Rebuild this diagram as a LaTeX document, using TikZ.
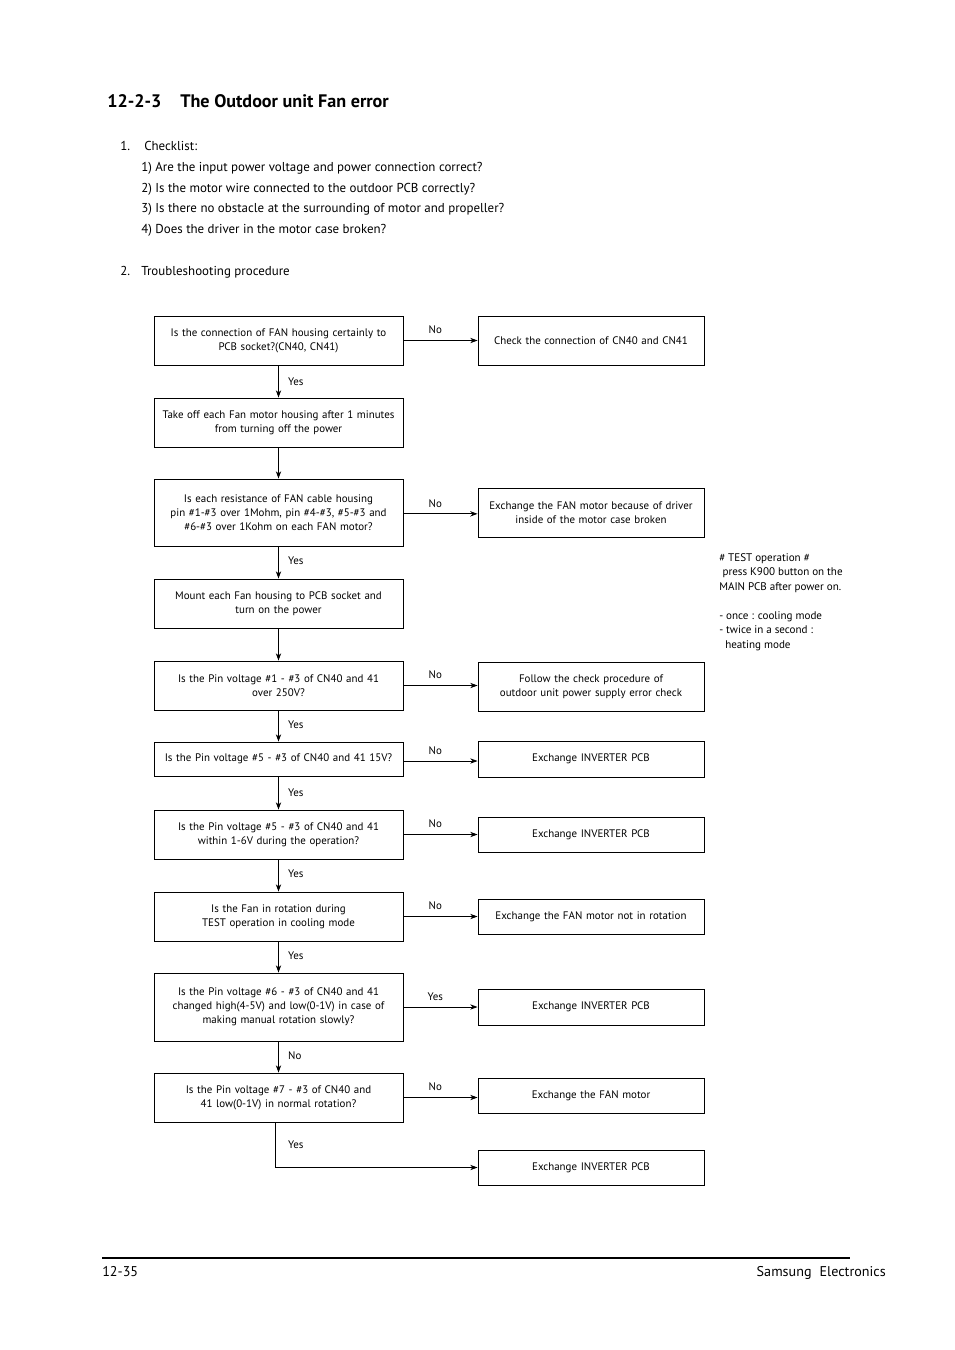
\documentclass[tikz,border=0pt]{standalone}
\usepackage{fontspec}
\setmainfont{PT Sans}
\usetikzlibrary{arrows.meta}
\begin{document}
\begin{tikzpicture}[x=0.75pt,y=-0.75pt,
  every node/.style={inner sep=0pt},
  boxtext/.style={font=\fontsize{8.2}{10.6}\selectfont},
  lbox/.style={draw, line width=0.7pt, boxtext, align=center, minimum width={249*0.75pt}, text width={244*0.75pt}},
  rbox/.style={draw, line width=0.7pt, boxtext, align=center, minimum width={226*0.75pt}, text width={222*0.75pt}},
  arr/.style={line width=0.6pt, -{Stealth[length=5.5pt,width=4pt]}},
  lbl/.style={boxtext},
  hdr/.style={anchor=base west, font=\fontsize{9.7}{12}\selectfont}
]
\useasboundingbox (0,0) rectangle (954,1350);

% heading
\node[anchor=base west, font=\fontsize{13.6}{16}\bfseries\selectfont] (tnum) at (107,107) {12-2-3};
\node[anchor=base west, font=\fontsize{13.6}{16}\bfseries\selectfont] (ttl) at (180,107) {The Outdoor unit Fan error};
\node[hdr] (n1) at (120,150) {1.};
\node[hdr] (c0) at (144,150) {Checklist:};
\node[hdr] (c1) at (141,171) {1) Are the input power voltage and power connection correct?};
\node[hdr] (c2) at (141,192) {2) Is the motor wire connected to the outdoor PCB correctly?};
\node[hdr] (c3) at (141,212) {3) Is there no obstacle at the surrounding of motor and propeller?};
\node[hdr] (c4) at (141,233) {4) Does the driver in the motor case broken?};
\node[hdr] (n2) at (120,275) {2.};
\node[hdr] (tp) at (141,275) {Troubleshooting procedure};

% left column
\node[lbox, minimum height={49*0.75pt}] (q1) at (278.5,340.5) {Is the connection of FAN housing certainly to\\PCB socket?(CN40, CN41)};
\node[lbox, minimum height={49*0.75pt}] (q2) at (278.5,422.5) {Take off each Fan motor housing after 1 minutes\\from turning off the power};
\node[lbox, minimum height={67*0.75pt}] (q3) at (278.5,512.5) {Is each resistance of FAN cable housing\\pin \#1-\#3 over 1Mohm, pin \#4-\#3, \#5-\#3 and\\\#6-\#3 over 1Kohm on each FAN motor?};
\node[lbox, minimum height={49*0.75pt}] (q4) at (278.5,603.5) {Mount each Fan housing to PCB socket and\\turn on the power};
\node[lbox, minimum height={49*0.75pt}] (q5) at (278.5,685.5) {Is the Pin voltage \#1 - \#3 of CN40 and 41\\over 250V?};
\node[lbox, minimum height={34*0.75pt}] (q6) at (278.5,759) {Is the Pin voltage \#5 - \#3 of CN40 and 41 15V?};
\node[lbox, minimum height={49*0.75pt}] (q7) at (278.5,834.5) {Is the Pin voltage \#5 - \#3 of CN40 and 41\\within 1-6V during the operation?};
\node[lbox, minimum height={49*0.75pt}] (q8) at (278.5,916.5) {Is the Fan in rotation during\\TEST operation in cooling mode};
\node[lbox, minimum height={68*0.75pt}] (q9) at (278.5,1007) {Is the Pin voltage \#6 - \#3 of CN40 and 41\\changed high(4-5V) and low(0-1V) in case of\\making manual rotation slowly?};
\node[lbox, minimum height={49*0.75pt}] (q10) at (278.5,1097.5) {Is the Pin voltage \#7 - \#3 of CN40 and\\41 low(0-1V) in normal rotation?};

% right column
\node[rbox, minimum height={49*0.75pt}] (r1) at (591,340.5) {Check the connection of CN40 and CN41};
\node[rbox, minimum height={49*0.75pt}] (r3) at (591,512.5) {Exchange the FAN motor because of driver\\inside of the motor case broken};
\node[rbox, minimum height={49*0.75pt}] (r5) at (591,686.5) {Follow the check procedure of\\outdoor unit power supply error check};
\node[rbox, minimum height={36*0.75pt}] (r6) at (591,759) {Exchange INVERTER PCB};
\node[rbox, minimum height={35*0.75pt}] (r7) at (591,834.5) {Exchange INVERTER PCB};
\node[rbox, minimum height={35*0.75pt}] (r8) at (591,916.5) {Exchange the FAN motor not in rotation};
\node[rbox, minimum height={36*0.75pt}] (r9) at (591,1007) {Exchange INVERTER PCB};
\node[rbox, minimum height={35*0.75pt}] (r10) at (591,1095.5) {Exchange the FAN motor};
\node[rbox, minimum height={35*0.75pt}] (r11) at (591,1167.5) {Exchange INVERTER PCB};

% note
\node[anchor=north west, align=left, font=\fontsize{8.3}{10.9}\selectfont] (note) at (719,553)
 {\# TEST operation \#\\\hspace*{2.5pt}press K900 button on the\\MAIN PCB after power on.\\[10.9pt]- once : cooling mode\\- twice in a second :\\\hspace*{4.5pt}heating mode};

% vertical connectors
\draw[arr] (q1.south) -- node[lbl, pos=0.5, right=7pt] {Yes} (q2.north);
\draw[arr] (q2.south) -- (q3.north);
\draw[arr] (q3.south) -- node[lbl, pos=0.45, right=7pt] {Yes} (q4.north);
\draw[arr] (q4.south) -- (q5.north);
\draw[arr] (q5.south) -- node[lbl, pos=0.45, right=7pt] {Yes} (q6.north);
\draw[arr] (q6.south) -- node[lbl, pos=0.5, right=7pt] {Yes} (q7.north);
\draw[arr] (q7.south) -- node[lbl, pos=0.45, right=7pt] {Yes} (q8.north);
\draw[arr] (q8.south) -- node[lbl, pos=0.45, right=7pt] {Yes} (q9.north);
\draw[arr] (q9.south) -- node[lbl, pos=0.45, right=7pt] {No} (q10.north);
\coordinate (k) at ([xshift=-2]q10.south);
\draw[arr] (k) |- node[lbl, pos=0.25, right=9pt] {Yes} (r11.west);

% horizontal connectors
\draw[arr] (q1.east) -- node[lbl, pos=0.43, above=4.5pt] {No} (r1.west);
\draw[arr] ([yshift=-1]q3.east) -- node[lbl, pos=0.43, above=4.5pt] {No} ([yshift=-1]q3.east -| r3.west);
\draw[arr] (q5.east) -- node[lbl, pos=0.43, above=4.5pt] {No} (q5.east -| r5.west);
\draw[arr] ([yshift=-1.5]q6.east) -- node[lbl, pos=0.43, above=4.5pt] {No} ([yshift=-1.5]q6.east -| r6.west);
\draw[arr] (q7.east) -- node[lbl, pos=0.43, above=4.5pt] {No} (q7.east -| r7.west);
\draw[arr] (q8.east) -- node[lbl, pos=0.43, above=4.5pt] {No} (q8.east -| r8.west);
\draw[arr] (q9.east) -- node[lbl, pos=0.43, above=4.5pt] {Yes} (r9.west);
\draw[arr] (q10.east) -- node[lbl, pos=0.43, above=4.5pt] {No} (q10.east -| r10.west);

% footer
\coordinate (fl) at (102,1258);
\coordinate (fr) at (850,1258);
\draw[line width=1.5pt] (fl) -- (fr);
\node[anchor=base west, font=\fontsize{10.6}{12}\selectfont] (pg) at (102,1276) {12-35};
\node[anchor=base east, font=\fontsize{10.6}{12}\selectfont] (co) at (886,1276) {Samsung\hspace{6pt}Electronics};
\end{tikzpicture}
\end{document}
